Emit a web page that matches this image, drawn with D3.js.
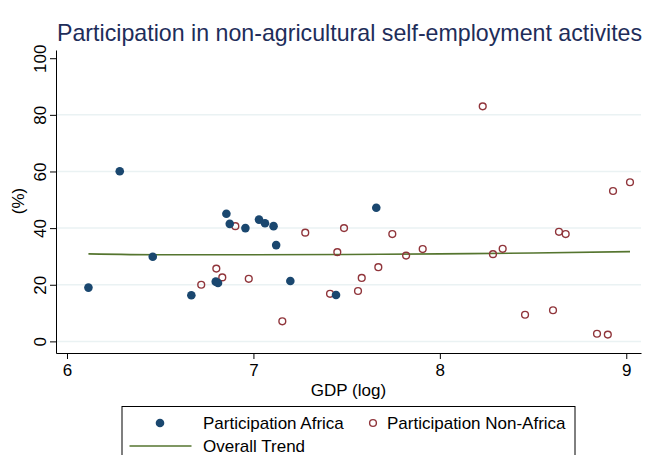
<!DOCTYPE html>
<html><head><meta charset="utf-8">
<script src="https://cdn.jsdelivr.net/npm/d3@7"></script>
<style>body{margin:0;background:#fff}svg{display:block;font-family:"Liberation Sans",Arial,sans-serif}</style>
</head><body><svg id="c" width="648" height="455"></svg>
<script>
const africaX = [6.115,6.283,6.460,6.667,6.798,6.810,6.855,6.873,6.957,7.030,7.062,7.108,7.122,7.198,7.443,7.659];
const africaY = [19.0,60.1,29.9,16.3,21.1,20.6,45.1,41.5,40.0,43.0,41.7,40.7,34.0,21.3,16.4,47.2];
const nonAfricaX = [6.720,6.801,6.833,6.903,6.975,7.155,7.278,7.411,7.450,7.486,7.561,7.581,7.670,7.745,7.819,7.908,8.230,8.285,8.337,8.457,8.607,8.639,8.675,8.843,8.901,8.929,9.020];
const nonAfricaY = [20.0,25.7,22.6,40.7,22.1,7.1,38.4,16.8,31.5,40.0,17.8,22.4,26.2,37.9,30.3,32.6,83.0,30.8,32.7,9.4,11.0,38.7,37.9,2.7,2.4,53.1,56.2];
const trendX = [6.115,6.5,7.0,7.5,8.0,8.5,9.02];
const trendY = [30.9,30.6,30.6,30.7,30.9,31.2,31.7];
const xTicks = [6,7,8,9];
const yTicks = [0,20,40,60,80,100];
const title = "Participation in non-agricultural self-employment activites";
const xTitle = "GDP (log)", yTitle = "(%)";
const legendLabels = ["Participation Africa","Participation Non-Africa","Overall Trend"];

const C = {navy:"#1a476f", maroon:"#90353b", green:"#55752f", grid:"#eaf2f3", title:"#1e2d5a"};
const FS = 17;
const svg = d3.select("#c");
const x = d3.scaleLinear().domain([5.941,9.079]).range([56,641]);
const y = d3.scaleLinear().domain([-4.1,102.9]).range([353,50]);

svg.append("text").attr("x",57).attr("y",41).attr("font-size",23.2).attr("fill",C.title).text(title);

// grid
svg.append("g").selectAll("line").data(yTicks.filter(t=>t<100)).join("line")
  .attr("x1",56).attr("x2",641).attr("y1",d=>y(d)).attr("y2",d=>y(d))
  .attr("stroke",C.grid).attr("stroke-width",1.5);

// axes
const xa = svg.append("g").attr("transform","translate(0,353)")
  .call(d3.axisBottom(x).tickValues(xTicks).tickSize(6).tickSizeOuter(0).tickPadding(5).tickFormat(d3.format("d")));
xa.selectAll("text").attr("font-size",FS).attr("fill","#000").attr("font-family","Liberation Sans, Arial, sans-serif");
const ya = svg.append("g").attr("transform","translate(56,0)")
  .call(d3.axisLeft(y).tickValues(yTicks).tickSize(6).tickSizeOuter(0).tickFormat(d3.format("d")));
ya.selectAll("text").attr("font-size",FS).attr("fill","#000").attr("font-family","Liberation Sans, Arial, sans-serif")
  .attr("text-anchor","middle").attr("x",0).attr("dy",0)
  .attr("transform","translate(-10,0) rotate(-90)");
svg.selectAll(".domain,.tick line").attr("stroke","#000").attr("stroke-width",1);

svg.append("text").attr("x",348.5).attr("y",396).attr("text-anchor","middle").attr("font-size",FS).text(xTitle);
svg.append("text").attr("transform","translate(24,201) rotate(-90)").attr("text-anchor","middle").attr("font-size",FS).text(yTitle);

// trend
svg.append("path").datum(trendX.map((v,i)=>[v,trendY[i]]))
  .attr("d",d3.line().x(d=>x(d[0])).y(d=>y(d[1])).curve(d3.curveMonotoneX))
  .attr("fill","none").attr("stroke",C.green).attr("stroke-width",1.6);

// points
svg.append("g").selectAll("circle").data(nonAfricaX.map((v,i)=>[v,nonAfricaY[i]])).join("circle")
  .attr("cx",d=>x(d[0])).attr("cy",d=>y(d[1])).attr("r",3.4)
  .attr("fill","none").attr("stroke",C.maroon).attr("stroke-width",1.4);
svg.append("g").selectAll("circle").data(africaX.map((v,i)=>[v,africaY[i]])).join("circle")
  .attr("cx",d=>x(d[0])).attr("cy",d=>y(d[1])).attr("r",4.3).attr("fill",C.navy);

// legend
const lg = svg.append("g");
lg.append("rect").attr("x",122).attr("y",406.5).attr("width",453).attr("height",60)
  .attr("fill","#fff").attr("stroke","#000").attr("stroke-width",1);
lg.append("circle").attr("cx",160).attr("cy",423).attr("r",4.3).attr("fill",C.navy);
lg.append("text").attr("x",203).attr("y",429).attr("font-size",FS).text(legendLabels[0]);
lg.append("circle").attr("cx",373).attr("cy",423).attr("r",3.4).attr("fill","none").attr("stroke",C.maroon).attr("stroke-width",1.4);
lg.append("text").attr("x",387).attr("y",429).attr("font-size",FS).text(legendLabels[1]);
lg.append("line").attr("x1",129.5).attr("x2",191.5).attr("y1",446).attr("y2",446).attr("stroke",C.green).attr("stroke-width",1.6);
lg.append("text").attr("x",203).attr("y",452).attr("font-size",FS).text(legendLabels[2]);
</script></body></html>
